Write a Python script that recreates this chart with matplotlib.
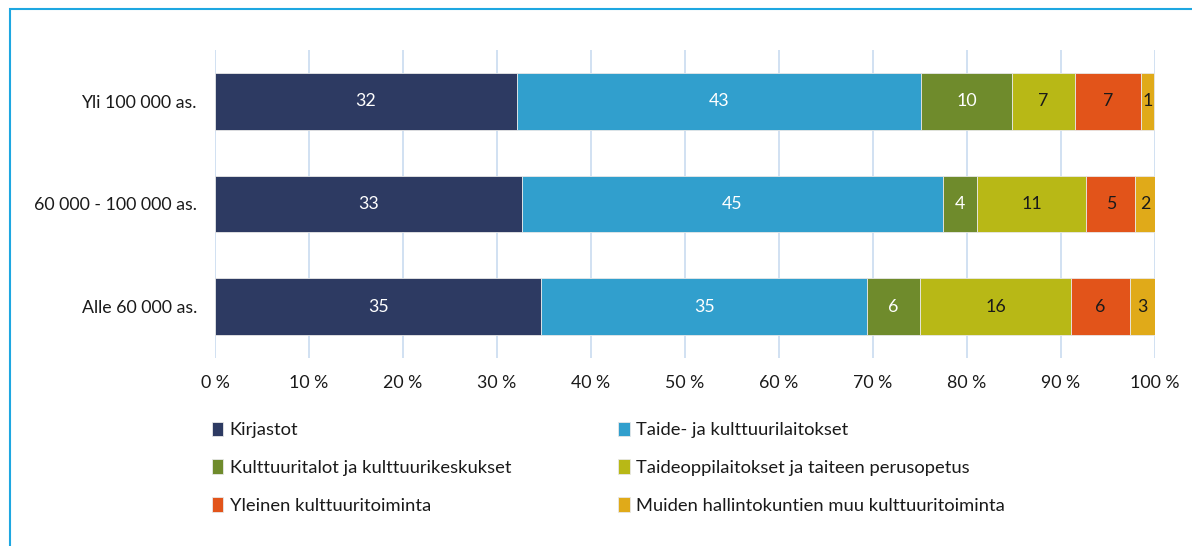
import matplotlib
matplotlib.use("Agg")
import matplotlib.pyplot as plt
from matplotlib.patches import Rectangle
import numpy as np

plt.rcParams['font.family'] = ['Lato', 'DejaVu Sans']

categories = ["Yli 100 000 as.", "60 000 - 100 000 as.", "Alle 60 000 as."]
series_names = ["Kirjastot", "Taide- ja kulttuurilaitokset",
                "Kulttuuritalot ja kulttuurikeskukset", "Taideoppilaitokset ja taiteen perusopetus",
                "Yleinen kulttuuritoiminta", "Muiden hallintokuntien muu kulttuuritoiminta"]
values = {
    "Kirjastot": [32.1, 32.7, 34.7],
    "Taide- ja kulttuurilaitokset": [43.0, 44.7, 34.7],
    "Kulttuuritalot ja kulttuurikeskukset": [9.7, 3.7, 5.6],
    "Taideoppilaitokset ja taiteen perusopetus": [6.7, 11.6, 16.1],
    "Yleinen kulttuuritoiminta": [7.0, 5.2, 6.2],
    "Muiden hallintokuntien muu kulttuuritoiminta": [1.4, 2.1, 2.7],
}
labels = {
    "Kirjastot": [32, 33, 35],
    "Taide- ja kulttuurilaitokset": [43, 45, 35],
    "Kulttuuritalot ja kulttuurikeskukset": [10, 4, 6],
    "Taideoppilaitokset ja taiteen perusopetus": [7, 11, 16],
    "Yleinen kulttuuritoiminta": [7, 5, 6],
    "Muiden hallintokuntien muu kulttuuritoiminta": [1, 2, 3],
}
colors = ["#2d3a62", "#319fcd", "#6f8b2c", "#b8b816", "#e2541a", "#e0aa19"]
label_colors = ["white", "white", "white", "#1a1a1a", "#1a1a1a", "#1a1a1a"]
xticks = [0, 10, 20, 30, 40, 50, 60, 70, 80, 90, 100]

FS = 12.8

fig = plt.figure(figsize=(11.92, 5.46), dpi=100)
ax = fig.add_axes([215/1192, 1-358/546, 940/1192, 308/546])

y = np.arange(len(categories))
left = np.zeros(len(categories))
handles = []
for name, col, lc in zip(series_names, colors, label_colors):
    v = np.array(values[name])
    bars = ax.barh(y, v, left=left, height=0.553, color=col, edgecolor="#e8e8e8",
                   linewidth=0.6, label=name, zorder=3)
    ax.bar_label(bars, labels=[str(l) for l in labels[name]], label_type="center",
                 color=lc, fontsize=FS)
    handles.append(bars)
    left += v

ax.set_xlim(0, 100)
ax.set_ylim(2.5, -0.5)
ax.set_xticks(xticks)
ax.set_xticklabels([f"{t} %" for t in xticks], fontsize=FS, color="#1a1a1a")
ax.set_yticks(y)
ax.set_yticklabels(categories, fontsize=FS, color="#1a1a1a")
ax.tick_params(axis="both", length=0)
ax.tick_params(axis="x", pad=12)
ax.tick_params(axis="y", pad=13)
for s in ax.spines.values():
    s.set_visible(False)
ax.grid(axis="x", color="#c9dcf0", linewidth=1.2, zorder=0)
ax.set_axisbelow(True)

order = [0, 2, 4, 1, 3, 5]
leg = fig.legend([handles[i] for i in order], [series_names[i] for i in order],
                 ncol=2, loc="upper left", bbox_to_anchor=(195/1192, 1-405/546),
                 frameon=False, fontsize=13.2, handlelength=0.65, handleheight=0.85,
                 handletextpad=0.35, labelspacing=1.15, columnspacing=5.82,
                 labelcolor="#1a1a1a")

fig.patches.append(Rectangle((10/1192, -0.1), 1.2, 1 - 9/546 + 0.1,
                             transform=fig.transFigure, fill=False,
                             edgecolor="#1ea7e1", linewidth=1.5, zorder=0))

fig.savefig("out.png", dpi=100)
